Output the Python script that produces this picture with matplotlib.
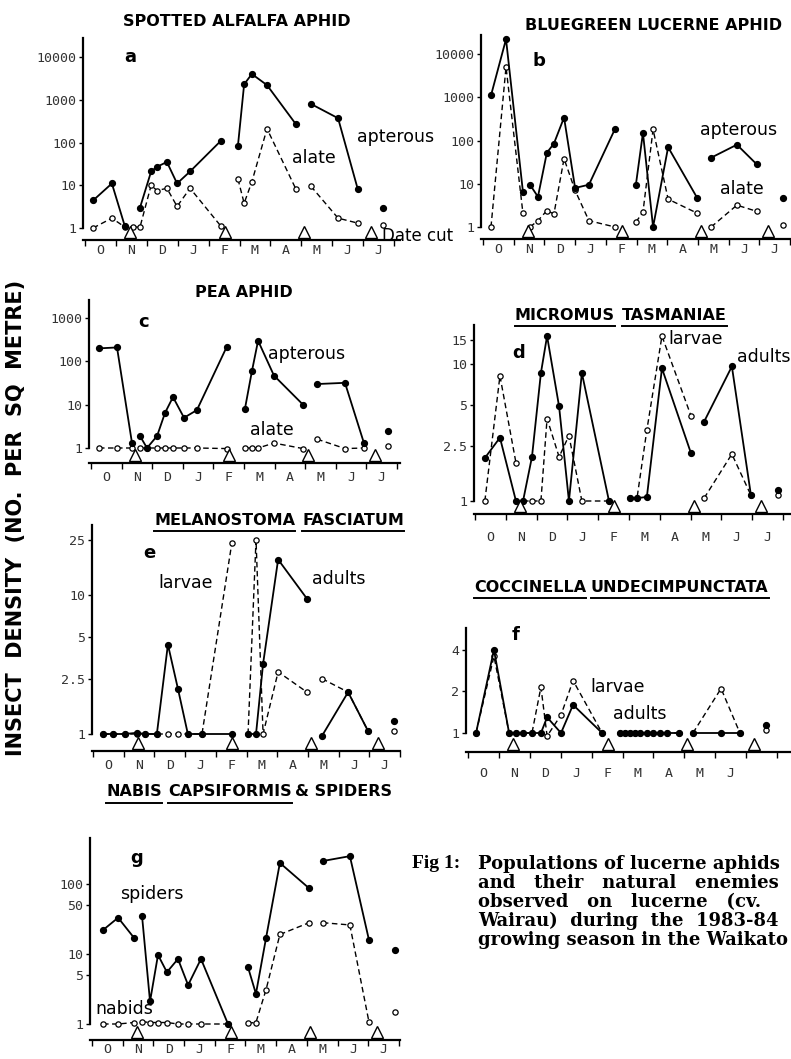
import numpy as np
import matplotlib.pyplot as plt
from matplotlib.lines import Line2D
from matplotlib.ticker import NullLocator
from matplotlib.transforms import blended_transform_factory

nan = np.nan
W, H = 791, 1059

months = ['O', 'N', 'D', 'J', 'F', 'M', 'A', 'M', 'J', 'J']
cuts = [1.45, 4.52, 7.1, 9.27]          # dates cut (months from 1 Oct)

# a  spotted alfalfa aphid
a_x = [0.26, 0.87, 1.29, nan, 1.78, 2.14, 2.33, 2.65, 2.98, 3.40, 4.40, nan,
       4.95, 5.15, 5.40, 5.89, 6.83, nan, 7.31, 8.19, 8.83, nan, 9.64]
a_apterous = [4.4, 11, 1.1, nan, 3, 21, 27, 35, 11, 21, 110, nan,
              85, 2300, 4000, 2200, 265, nan, 800, 370, 8, nan, 3]
a_alate_x = [0.26, 0.87, 1.29, nan, 1.55, 1.78, 2.14, 2.33, 2.65, 2.98, 3.40, 4.40, nan,
             4.95, 5.15, 5.40, 5.89, 6.83, nan, 7.31, 8.19, 8.83, nan, 9.64]
a_alate = [1, 1.7, 1.05, nan, 1.05, 1.05, 10, 7.5, 8.5, 3.2, 8.5, 1.1, nan,
           14, 3.8, 12, 210, 8, nan, 9.5, 1.7, 1.3, nan, 1.2]

# b  bluegreen lucerne aphid
b_x = [0.26, 0.75, 1.30, nan, 1.53, 1.79, 2.08, 2.31, 2.64, 3.00, 3.45, 4.30, nan,
       4.98, 5.21, 5.54, 6.03, 6.97, nan, 7.43, 8.27, 8.92, nan, 9.77]
b_apterous = [1100, 22000, 6.6, nan, 9.5, 5, 52, 85, 340, 8, 9.5, 185, nan,
              9.5, 150, 1, 70, 4.8, nan, 40, 80, 28, nan, 4.8]
b_alate = [1, 5000, 2.1, nan, 1, 1.4, 2.4, 2, 38, 7, 1.4, 1, nan,
           1.3, 2.2, 180, 4.4, 2.1, nan, 1, 3.2, 2.3, nan, 1.1]

# c  pea aphid
c_x = [0.26, 0.85, 1.34, nan, 1.60, 1.83, 2.16, 2.42, 2.68, 3.04, 3.46, 4.44, nan,
       5.03, 5.26, 5.46, 5.98, 6.93, nan, 7.39, 8.30, 8.92, nan, 9.71]
c_apterous = [200, 210, 1.3, nan, 1.9, 1, 1.9, 6.5, 15, 5, 7.5, 220, nan,
              8, 60, 300, 47, 10, nan, 30, 32, 1.3, nan, 2.5]
c_alate = [1, 1, 1, nan, 1, 1, 1, 1, 1, 1, 1, 0.97, nan,
           1, 1, 1, 1.3, 0.97, nan, 1.6, 0.97, 1, nan, 1.1]

# d  Micromus tasmaniae
d_x = [0.32, 0.81, 1.33, nan, 1.56, 1.85, 2.14, 2.34, 2.73, 3.05, 3.47, 4.35, nan,
       5.03, 5.26, 5.58, 6.07, 7.01, nan, 7.44, 8.34, 8.96, nan, 9.84]
d_adults = [2.06, 2.9, 1.0, nan, 1, 2.1, 8.6, 16, 4.9, 1, 8.6, 1, nan,
            1.05, 1.05, 1.07, 9.3, 2.24, nan, 3.8, 9.6, 1.1, nan, 1.2]
d_larvae = [1, 8.2, 1.9, nan, 1, 1, 1, 4, 2.1, 3, 1, 1, nan,
            1.05, 1.05, 3.3, 16, 4.2, nan, 1.05, 2.2, 1.1, nan, 1.1]

# e  Melanostoma fasciatum
e_x = [0.33, 0.65, 1.04, 1.43, 1.69, 2.08, 2.44, 2.77, 3.09, 3.55, 4.52, nan,
       5.05, 5.31, 5.54, 6.03, 6.97, nan, 7.46, 8.31, 8.96, nan, 9.8]
e_adults = [1, 1, 1, 1.02, 1, 1, 4.4, 2.1, 1, 1, 1, nan,
            1, 1, 3.2, 18, 9.4, nan, 0.97, 2, 1.05, nan, 1.25]
e_larvae = [1, 1, 1, 1, 1, 1, 1, 1, 1, 1, 23.5, nan,
            1, 25, 1, 2.8, 2, nan, 2.5, 2, 1.05, nan, 1.05]

# f  Coccinella undecimpunctata
f_x = [0.26, 0.84, 1.33, 1.55, 1.78, 2.07, 2.36, 2.56, 3.01, 3.40, 4.34, nan,
       4.92, 5.08, 5.24, 5.40, 5.57, 5.79, 5.99, 6.21, 6.44, 6.83, nan,
       7.28, 8.19, 8.80, nan, 9.64]
f_adults = [1, 4.0, 1, 1, 1, 1, 1, 1.3, 1, 1.6, 1, nan,
            1, 1, 1, 1, 1, 1, 1, 1, 1, 1, nan, 1, 1, 1, nan, 1.15]
f_larvae = [1, 3.6, 1, 1, 1, 1, 2.15, 0.95, 1.35, 2.4, 1, nan,
            1, 1, 1, 1, 1, 1, 1, 1, 1, 1, nan, 1, 2.1, 1, nan, 1.05]

# g  Nabis capsiformis & spiders
g_x = [0.36, 0.85, 1.37, nan, 1.63, 1.89, 2.15, 2.44, 2.80, 3.13, 3.55, 4.43, nan,
       5.08, 5.34, 5.67, 6.12, 7.07, nan, 7.52, 8.40, 9.02, nan, 9.87]
g_spiders = [22, 33, 17, nan, 35, 2.1, 9.7, 5.5, 8.5, 3.6, 8.5, 1.0, nan,
             6.5, 2.7, 17, 200, 87, nan, 213, 250, 16, nan, 11.5]
g_nabids = [1, 1, 1.05, nan, 1.08, 1.05, 1.05, 1.05, 1, 1, 1, 1, nan,
            1.03, 1.05, 3.1, 19, 28, nan, 28, 26, 1.08, nan, 1.5]

TICKFONT = 'DejaVu Sans Mono'

fig = plt.figure(figsize=(W / 100, H / 100), dpi=100)


def px(x, y):
    return x / W, 1 - y / H


def panel(box, x0, step, y1, ppd, yticks, lpad, nmonths=10):
    # box = left, top, right, bottom in pixels; x0 = pixel of month 0
    l, t, r, b = box
    ax = fig.add_axes([l / W, 1 - b / H, (r - l) / W, (b - t) / H])
    ax.patch.set_alpha(0)
    ax.set_xlim((l - x0) / step, (r - x0) / step)
    ax.set_yscale('log')
    ax.set_ylim(10 ** (-(b - y1) / ppd), 10 ** ((y1 - t) / ppd))
    for s in ['top', 'right']:
        ax.spines[s].set_visible(False)
    ax.spines['left'].set_bounds(1, ax.get_ylim()[1])
    ax.spines['left'].set_linewidth(1.6)
    ax.spines['bottom'].set_linewidth(1.6)
    ax.set_yticks(yticks)
    ax.set_yticklabels([('%g' % v) for v in yticks], family=TICKFONT,
                       fontsize=9.5, color='#333333')
    ax.yaxis.set_minor_locator(NullLocator())
    ax.set_xticks([i for i in range(11) if i <= ax.get_xlim()[1]])
    ax.set_xticks([i + 0.5 for i in range(nmonths)], minor=True)
    ax.set_xticklabels(months[:nmonths], minor=True, family=TICKFONT,
                       fontsize=9.5, color='#333333')
    ax.tick_params(axis='x', which='major', direction='out', length=4,
                   width=1, labelbottom=False)
    ax.tick_params(axis='x', which='minor', length=0, pad=lpad)
    ax.tick_params(axis='y', direction='out', length=3, width=1, pad=2)
    tr = blended_transform_factory(ax.transData, ax.transAxes)
    ax.plot(cuts, [8 / (b - t)] * len(cuts), '^', ms=8, mfc='white',
            mec='k', mew=1, transform=tr, clip_on=False, zorder=4)
    return ax


def solid(ax, x, y):
    ax.plot(x, y, '-', color='k', lw=1.3, marker='o', ms=4.2, mfc='k',
            mec='k', clip_on=False, zorder=3)


def dashed(ax, x, y):
    ax.plot(x, y, '--', color='k', lw=1.0, dashes=(4, 2.5), marker='o',
            ms=3.8, mfc='white', mec='k', mew=0.9, clip_on=False, zorder=2)


def note(x, y, s, size=12.5, weight='normal'):
    fig.text(*px(x, y), s, fontsize=size, fontweight=weight,
             family='DejaVu Sans', va='center', ha='left')


def title(x, y, s, underline=False):
    t = fig.text(*px(x, y), s, fontsize=11.5, fontweight='bold',
                 family='DejaVu Sans', va='center', ha='left')
    if underline:
        bb = t.get_window_extent(fig.canvas.get_renderer())
        bb = bb.transformed(fig.transFigure.inverted())
        fig.add_artist(Line2D([bb.x0, bb.x1], [bb.y0 - 0.003] * 2,
                              transform=fig.transFigure, color='k', lw=1.4))


# a
ax = panel((83, 38, 400, 240), 85, 30.9, 228, 42.75, [1, 10, 100, 1000, 10000], 3)
dashed(ax, a_alate_x, a_alate)
solid(ax, a_x, a_apterous)
title(123, 22, 'SPOTTED ALFALFA APHID')
note(124, 57, 'a', 13, 'bold')
note(357, 137, 'apterous')
note(292, 158, 'alate')
note(382, 236, 'Date cut', 12)

# b
ax = panel((481, 35, 820, 239), 483, 30.7, 227, 43.25, [1, 10, 100, 1000, 10000], 3)
dashed(ax, b_x, b_alate)
solid(ax, b_x, b_apterous)
title(525, 25, 'BLUEGREEN LUCERNE APHID')
note(532, 61, 'b', 13, 'bold')
note(700, 130, 'apterous')
note(720, 189, 'alate')

# c
ax = panel((89, 300, 400, 463), 91, 30.6, 448, 43.3, [1, 10, 100, 1000], 6)
dashed(ax, c_x, c_alate)
solid(ax, c_x, c_apterous)
title(195, 292, 'PEA APHID')
note(138, 322, 'c', 13, 'bold')
note(268, 354, 'apterous')
note(250, 430, 'alate')

# d
ax = panel((474, 325, 820, 514), 475, 30.8, 501, 137, [1, 2.5, 5, 10, 15], 12)
dashed(ax, d_x, d_larvae)
solid(ax, d_x, d_adults)
title(515, 315, 'MICROMUS', True)
title(622, 315, 'TASMANIAE', True)
note(512, 353, 'd', 13, 'bold')
note(668, 339, 'larvae')
note(737, 357, 'adults')

# e
ax = panel((92, 525, 400, 751), 93, 30.7, 734, 139, [1, 2.5, 5, 10, 25], 6)
dashed(ax, e_x, e_larvae)
solid(ax, e_x, e_adults)
title(154, 520, 'MELANOSTOMA', True)
title(302, 520, 'FASCIATUM', True)
note(143, 553, 'e', 13, 'bold')
note(158, 583, 'larvae')
note(312, 579, 'adults')

# f
ax = panel((466, 628, 790, 752), 468, 30.9, 733, 138, [1, 2, 4], 11, nmonths=9)
dashed(ax, f_x, f_larvae)
solid(ax, f_x, f_adults)
title(474, 587, 'COCCINELLA', True)
title(591, 587, 'UNDECIMPUNCTATA', True)
note(512, 635, 'f', 13, 'bold')
note(590, 687, 'larvae')
note(613, 714, 'adults')

# g
ax = panel((90, 838, 400, 1040), 92, 30.7, 1024, 70, [1, 5, 10, 50, 100], 2)
dashed(ax, g_x, g_nabids)
solid(ax, g_x, g_spiders)
title(106, 792, 'NABIS', True)
title(168, 792, 'CAPSIFORMIS', True)
title(295, 792, '& SPIDERS')
note(130, 858, 'g', 13, 'bold')
note(120, 894, 'spiders')
note(95, 1009, 'nabids')

# y label
fig.text(*px(16, 518), 'INSECT  DENSITY  (NO.  PER  SQ  METRE)', rotation=90,
         fontsize=15, fontweight='bold', family='DejaVu Sans',
         ha='center', va='center')

# caption
cap = dict(family='DejaVu Serif', fontweight='bold', fontsize=13,
           va='center', ha='left')
fig.text(*px(412, 864), 'Fig 1:', **dict(cap, family='Liberation Serif', fontsize=14))
lines = ['Populations of lucerne aphids',
         'and   their   natural   enemies',
         'observed   on   lucerne   (cv.',
         'Wairau)  during  the  1983-84',
         'growing season in the Waikato']
for i, s in enumerate(lines):
    fig.text(*px(478, 864 + 19 * i), s, **cap)

fig.savefig('out.png', dpi=100)
